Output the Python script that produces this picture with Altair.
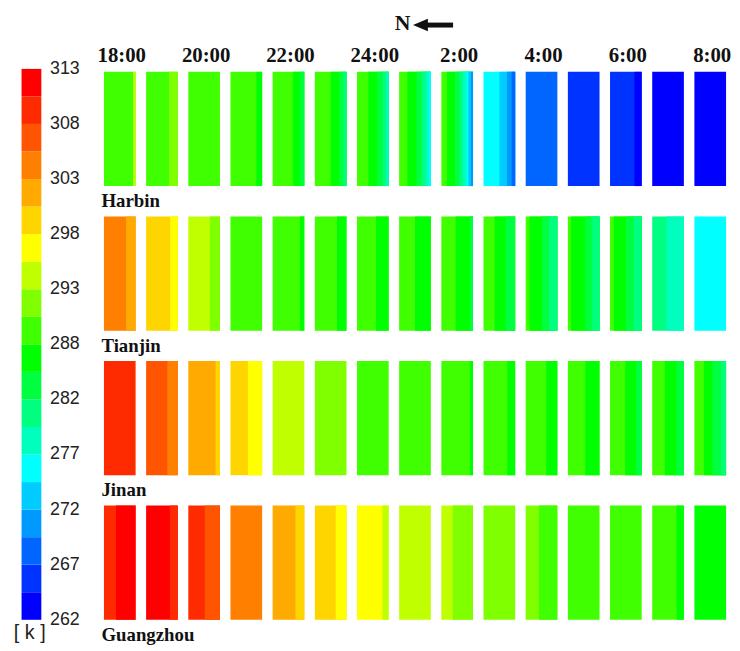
import altair as alt
import pandas as pd

# ---------------- data ----------------
hours = ["18:00", "19:00", "20:00", "21:00", "22:00", "23:00", "24:00", "1:00",
         "2:00", "3:00", "4:00", "5:00", "6:00", "7:00", "8:00"]
header_hours = ["18:00", "20:00", "22:00", "24:00", "2:00", "4:00", "6:00", "8:00"]
cities = ["Harbin", "Tianjin", "Jinan", "Guangzhou"]

# colour bar: 20 bands between 262 K and 313 K
t_min, t_max = 262.0, 313.0
band_edges = [262.0, 264.55, 267.1, 269.65, 272.2, 274.75, 277.3, 279.85, 282.4,
              284.95, 287.5, 290.05, 292.6, 295.15, 297.7, 300.25, 302.8, 305.35,
              307.9, 310.45, 313.0]
band_colors = ["#0000FF", "#0033FF", "#0066FF", "#0099FF", "#00CCFF", "#00FFFF",
               "#00FFBF", "#00FF80", "#00FF40", "#00FF00", "#40FF00", "#80FF00",
               "#BFFF00", "#FFFF00", "#FFD500", "#FFAA00", "#FF8000", "#FF5500",
               "#FF2B00", "#FF0000"]
tick_values = [262, 267.1, 272.2, 277.3, 282.4, 287.5, 292.6, 297.7, 302.8, 307.9, 313]
tick_labels = ["262", "267", "272", "277", "282", "288", "293", "298", "303", "308", "313"]

# each cell: list of (temperature K, share of the cell width), west -> east
harbin = [
    [(288.8, 0.92), (293.9, 0.08)],
    [(288.8, 0.72), (291.3, 0.28)],
    [(288.8, 1.0)],
    [(288.8, 0.82), (286.2, 0.18)],
    [(288.8, 0.64), (286.2, 0.23), (283.7, 0.13)],
    [(288.8, 0.5), (286.2, 0.27), (283.7, 0.14), (281.1, 0.09)],
    [(288.8, 0.36), (286.2, 0.28), (283.7, 0.18), (281.1, 0.1), (278.6, 0.08)],
    [(288.8, 0.26), (286.2, 0.29), (283.7, 0.16), (281.1, 0.12), (278.6, 0.1), (276.0, 0.07)],
    [(288.8, 0.18), (286.2, 0.25), (283.7, 0.15), (281.1, 0.1), (278.6, 0.12), (276.0, 0.05),
     (273.5, 0.08), (270.9, 0.07)],
    [(276.0, 0.5), (273.5, 0.24), (270.9, 0.15), (268.4, 0.11)],
    [(268.4, 1.0)],
    [(265.8, 1.0)],
    [(265.8, 0.77), (263.3, 0.23)],
    [(263.3, 1.0)],
    [(263.3, 1.0)],
]
tianjin = [
    [(304.1, 0.7), (301.5, 0.3)],
    [(299.0, 0.76), (296.4, 0.24)],
    [(293.9, 0.68), (291.3, 0.32)],
    [(288.8, 1.0)],
    [(288.8, 0.86), (286.2, 0.14)],
    [(288.8, 0.7), (286.2, 0.3)],
    [(288.8, 0.6), (286.2, 0.4)],
    [(288.8, 0.5), (286.2, 0.5)],
    [(288.8, 0.45), (286.2, 0.45), (283.7, 0.1)],
    [(288.8, 0.35), (286.2, 0.35), (283.7, 0.3)],
    [(288.8, 0.12), (286.2, 0.4), (283.7, 0.22), (281.1, 0.26)],
    [(288.8, 0.1), (286.2, 0.45), (283.7, 0.22), (281.1, 0.23)],
    [(288.8, 0.12), (286.2, 0.38), (283.7, 0.25), (281.1, 0.25)],
    [(281.1, 0.45), (278.6, 0.55)],
    [(276.0, 1.0)],
]
jinan = [
    [(309.2, 1.0)],
    [(306.6, 0.67), (304.1, 0.33)],
    [(301.5, 0.86), (299.0, 0.14)],
    [(299.0, 0.55), (296.4, 0.45)],
    [(293.9, 1.0)],
    [(291.3, 1.0)],
    [(288.8, 1.0)],
    [(288.8, 1.0)],
    [(288.8, 0.9), (286.2, 0.1)],
    [(288.8, 0.75), (286.2, 0.25)],
    [(288.8, 0.65), (286.2, 0.35)],
    [(288.8, 0.55), (286.2, 0.45)],
    [(288.8, 0.48), (286.2, 0.34), (283.7, 0.18)],
    [(288.8, 0.4), (286.2, 0.37), (283.7, 0.23)],
    [(288.8, 0.3), (286.2, 0.27), (283.7, 0.28), (281.1, 0.15)],
]
guangzhou = [
    [(309.2, 0.38), (311.7, 0.62)],
    [(311.7, 0.75), (309.2, 0.25)],
    [(309.2, 0.52), (306.6, 0.48)],
    [(304.1, 1.0)],
    [(301.5, 0.72), (299.0, 0.28)],
    [(299.0, 0.66), (296.4, 0.34)],
    [(296.4, 0.8), (293.9, 0.2)],
    [(293.9, 1.0)],
    [(293.9, 0.36), (291.3, 0.64)],
    [(291.3, 1.0)],
    [(291.3, 0.42), (288.8, 0.58)],
    [(288.8, 1.0)],
    [(288.8, 1.0)],
    [(288.8, 0.77), (286.2, 0.23)],
    [(286.2, 1.0)],
]

# ---------------- tables ----------------
W = 0.751  # cell width as a share of the column step
rows = []
for city, cells in zip(cities, [harbin, tianjin, jinan, guangzhou]):
    for i, strips in enumerate(cells):
        total = sum(f for _, f in strips)
        cum = 0.0
        for t, f in strips:
            # each strip runs to the east edge of the cell; the next strip is
            # drawn over it, so there are no hairline seams between strips
            rows.append({"city": city, "hour": hours[i],
                         "x0": i + W * cum / total,
                         "x1": i + W, "T": t})
            cum += f
cells_df = pd.DataFrame(rows)

bands_df = pd.DataFrame({
    "lo": band_edges[:-1], "hi": band_edges[1:],
    "T": [(a + b) / 2 for a, b in zip(band_edges[:-1], band_edges[1:])],
})
ticks_df = pd.DataFrame({"pos": tick_values, "label": tick_labels})
city_df = pd.DataFrame({"city": cities, "x": [0.0] * len(cities)})
head_df = pd.DataFrame({"hour": header_hours,
                        "xc": [hours.index(h) + W / 2 for h in header_hours]})

# ---------------- scales ----------------
color_scale = alt.Scale(type="threshold", domain=band_edges[1:-1], range=band_colors)
x_scale = alt.Scale(domain=[0, 14 + W], nice=False, zero=False)
y_rows = alt.Scale(domain=cities, paddingInner=0.2098, paddingOuter=0.0102, align=1)
y_temp = alt.Scale(domain=[t_min, t_max], nice=False, zero=False)

SERIF = "Liberation Serif"
SANS = "Liberation Sans"

# ---------------- colour bar ----------------
bar = alt.Chart(bands_df).mark_rect().encode(
    x=alt.value(-83.3), x2=alt.value(-63.3),
    y=alt.Y("lo:Q", scale=y_temp, axis=None), y2="hi:Q",
    color=alt.Color("T:Q", scale=color_scale, legend=None),
)
bar_labels = alt.Chart(ticks_df).mark_text(
    align="left", baseline="middle", font=SANS, fontSize=18, color="#222222"
).encode(x=alt.value(-54.5), y=alt.Y("pos:Q", scale=y_temp, axis=None), text="label:N")
unit = alt.Chart(pd.DataFrame({"u": ["[ k ]"]})).mark_text(
    align="center", baseline="alphabetic", font=SANS, fontSize=20, color="#222222"
).encode(x=alt.value(-75), y=alt.value(576), text="u:N")
colorbar = alt.layer(bar, bar_labels, unit)

# ---------------- cells ----------------
cells = alt.Chart(cells_df).mark_rect().encode(
    x=alt.X("x0:Q", scale=x_scale, axis=None), x2="x1:Q",
    y=alt.Y("city:N", scale=y_rows, sort=cities, axis=None),
    color=alt.Color("T:Q", scale=color_scale, legend=None),
)
city_text = alt.Chart(city_df).mark_text(
    align="left", baseline="alphabetic", dx=-2.5, dy=79,
    font=SERIF, fontWeight="bold", fontSize=19, color="#111111"
).encode(x=alt.X("x:Q", scale=x_scale, axis=None),
         y=alt.Y("city:N", scale=y_rows, sort=cities, axis=None), text="city:N")
head_text = alt.Chart(head_df).mark_text(
    align="center", baseline="alphabetic", dx=2, font=SERIF, fontWeight="bold",
    fontSize=21, color="#111111"
).encode(x=alt.X("xc:Q", scale=x_scale, axis=None), y=alt.value(-7), text="hour:N")

north = alt.Chart(pd.DataFrame({"n": ["N"]})).mark_text(
    align="center", baseline="alphabetic", font=SERIF, fontWeight="bold",
    fontSize=22, color="#111111"
).encode(x=alt.value(302), y=alt.value(-39), text="n:N")
arrow_shaft = alt.Chart(pd.DataFrame({"a": [1]})).mark_rule(
    color="#111111", strokeWidth=5
).encode(x=alt.value(324), x2=alt.value(353), y=alt.value(-44.3))
arrow_head = alt.Chart(pd.DataFrame({"a": [1]})).mark_point(
    shape="M -1 0 L 1 -0.85 L 1 0.85 Z", filled=True, size=225,
    color="#111111", opacity=1
).encode(x=alt.value(320), y=alt.value(-44.3))

main = alt.layer(cells, city_text, head_text, north, arrow_shaft, arrow_head)

chart = alt.layer(colorbar, main).resolve_scale(y="independent").properties(
    width=629, height=557,
    padding={"left": 97, "top": 58, "right": 6, "bottom": 28},
    autosize=alt.AutoSizeParams(type="none"),
    background="white",
).configure_view(stroke=None)

chart.save("out.html", embed_options={"renderer": "svg", "actions": False})
